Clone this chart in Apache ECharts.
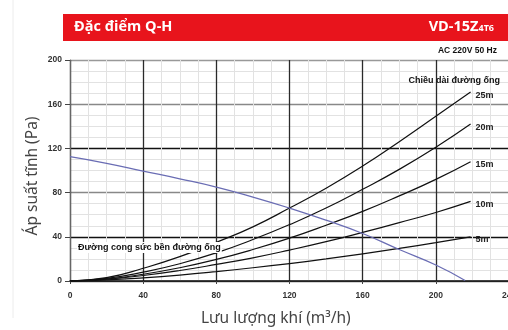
<!DOCTYPE html>
<html><head><meta charset="utf-8">
<script src="https://cdn.jsdelivr.net/npm/echarts@6/dist/echarts.min.js"></script>
<style>html,body{margin:0;padding:0;background:#fff}#c{width:508px;height:330px}</style>
</head><body><div id="c"></div>
<script>
// Data
const flowX = [0, 20, 40, 60, 80, 100, 120, 140, 160, 180, 200, 219];
const duct25 = [0, 3, 11.5, 22, 35, 49, 66, 84, 104, 126, 149, 171];
const duct20 = [0, 2.4, 8, 15.6, 25.5, 37.5, 51, 66, 83, 101, 121, 142];
const duct15 = [0, 1.8, 6.1, 12, 19.5, 28.5, 38.8, 50.5, 63, 77, 92, 108];
const duct10 = [0, 1.6, 5, 9.5, 15, 21, 28, 35.6, 44, 52.8, 62, 72];
const duct5  = [0, 1, 2.9, 5.4, 8.5, 12, 15.8, 20, 24.6, 29.5, 34.7, 40];
const fanX = [0, 20, 40, 60, 80, 100, 120, 140, 160, 180, 200, 216];
const fanY = [112.5, 106.5, 99.5, 92.5, 85, 76, 66, 55, 43, 28.5, 14.5, 0.5];
const ductNames = ['25m', '20m', '15m', '10m', '5m'];
const xTicks = [0, 40, 80, 120, 160, 200, 240];
const yTicks = [0, 40, 80, 120, 160, 200];

const ducts = [duct25, duct20, duct15, duct10, duct5];
const chart = echarts.init(document.getElementById('c'));
const F = 'Liberation Sans';
const series = ducts.map((d, i) => ({
  name: ductNames[i], type: 'line', smooth: true, symbol: 'none',
  data: flowX.map((x, j) => [x, d[j]]),
  lineStyle: { color: '#111', width: 1.2 },
  endLabel: { show: true, formatter: ductNames[i], color: '#222', fontSize: 9, fontWeight: 'bold', fontFamily: F, distance: 5, offset: [0, 3] },
  z: 3
}));
series.push({
  name: 'fan', type: 'line', smooth: true, symbol: 'none',
  data: fanX.map((x, j) => [x, fanY[j]]),
  lineStyle: { color: '#6a6db4', width: 1.3 }, z: 4
});

chart.setOption({
  animation: false,
  grid: { left: 70, right: -1, top: 60, bottom: 49, containLabel: false, outerBoundsMode: 'none' },
  xAxis: {
    type: 'value', min: xTicks[0], max: xTicks[xTicks.length - 1], interval: 40,
    axisLine: { lineStyle: { color: '#111', width: 1.5 } },
    axisTick: { show: true, length: 3, lineStyle: { color: '#444' } },
    axisLabel: { fontSize: 8.5, fontWeight: 'bold', color: '#333', fontFamily: F, margin: 10, hideOverlap: false },
    splitLine: { show: true, lineStyle: { color: '#2a2a2a', width: 1.3 } },
    minorTick: { show: false, splitNumber: 4 },
    minorSplitLine: { show: true, lineStyle: { color: '#e2e2e2', width: 1 } }
  },
  yAxis: {
    type: 'value', min: yTicks[0], max: yTicks[yTicks.length - 1], interval: 40,
    axisLine: { show: true, lineStyle: { color: '#666', width: 1.2 } },
    axisTick: { show: true, length: 5, lineStyle: { color: '#444' } },
    axisLabel: { fontSize: 8.5, fontWeight: 'bold', color: '#333', fontFamily: F, margin: 8 },
    splitLine: { show: true, lineStyle: { color: ['#555', '#111', '#888', '#111', '#888', '#999'], width: 1.3 } },
    minorTick: { show: false, splitNumber: 4 },
    minorSplitLine: { show: true, lineStyle: { color: '#e2e2e2', width: 1 } }
  },
  series: series,
  graphic: [
    { type: 'line', shape: { x1: 13, y1: 0, x2: 13, y2: 318 }, style: { stroke: '#ececec', lineWidth: 1 }, silent: true },
    { type: 'rect', shape: { x: 63, y: 14, width: 450, height: 27 }, style: { fill: '#e8141c' }, z: 10 },
    { type: 'text', left: 74, top: 19, z: 11, style: { text: 'Đặc điểm Q-H', fill: '#fff', font: 'bold 14.5px "Open Sans"' } },
    { type: 'text', right: 14, top: 19, z: 11, style: {
      text: '{a|VD-15Z}{b|4T6}', fill: '#fff',
      rich: { a: { fontSize: 14.5, fontWeight: 'bold', fontFamily: 'Open Sans', fill: '#fff', color: '#fff' },
              b: { fontSize: 9, fontWeight: 'bold', fontFamily: 'Open Sans', fill: '#fff', color: '#fff', padding: [4, 0, 0, 0] } } } },
    { type: 'text', right: 11, top: 46, z: 11, style: { text: 'AC 220V 50 Hz', fill: '#111', font: 'bold 8.5px "Liberation Sans"' } },
    { type: 'text', right: 8, top: 76, z: 11, style: { text: 'Chiều dài đường ống', fill: '#111', font: 'bold 9px "Liberation Sans"' } },
    { type: 'text', left: 77, top: 242, z: 11, style: { text: 'Đường cong sức bền đường ống', fill: '#111', font: 'bold 9px "Liberation Sans"', backgroundColor: '#fff', padding: [1, 1] } },
    { type: 'text', left: 201, top: 311, z: 11, style: { text: 'Lưu lượng khí (m³/h)', fill: '#444', font: '15.5px "Noto Sans"' } },
    { type: 'text', x: 33, y: 176, rotation: Math.PI / 2, z: 11, style: { text: 'Áp suất tĩnh (Pa)', fill: '#444', font: '15.5px "Noto Sans"', align: 'center', verticalAlign: 'middle' } }
  ]
});
</script></body></html>
